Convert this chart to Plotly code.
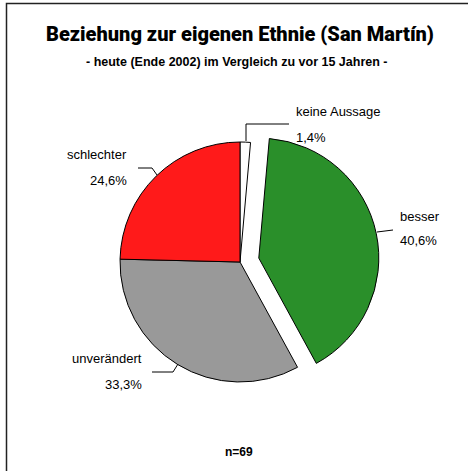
#!/usr/bin/env python3

import plotly.graph_objects as go

# Data (share of respondents, in %).
categories = ["keine Aussage", "besser", "unverändert", "schlechter"]
shares = [1.4, 40.6, 33.3, 24.6]
colors = ["#ffffff", "#2a8f2a", "#999999", "#ff1a1a"]
pulls = [0.0, 0.16, 0.0, 0.0]
sample_size = 69

W, H = 468, 471


def px(x, y):
    '''Convert pixel position (from top-left) to paper coordinates.'''
    return x / W, 1 - y / H


# Label placement (pixels) and alignment for each category.
label_pos = {
    "keine Aussage": (294, 112, 138, "left"),
    "besser": (398, 216, 240, "left"),
    "unverändert": (144, 358, 384, "right"),
    "schlechter": (129, 155, 180, "right"),
}

# Leader line paths (pixels).
leader_paths = {
    "keine Aussage": [(246, 141), (246, 124), (289, 124)],
    "besser": [(377, 232), (393, 230)],
    "unverändert": [(152, 372), (173, 372), (178, 364)],
    "schlechter": [(138, 168), (152, 168), (157, 175)],
}

# Pie geometry: radius 120 px centred at (240, 262), domain enlarged for the pull.
cx, cy, r = 240, 262, 120
half = r * (1 + max(pulls))
x0, y0 = px(cx - half, cy + half)
x1, y1 = px(cx + half, cy - half)

fig = go.Figure()
fig.add_trace(go.Pie(
    labels=categories,
    values=shares,
    sort=False,
    direction="clockwise",
    rotation=0,
    pull=pulls,
    textinfo="none",
    hoverinfo="label+percent",
    marker=dict(colors=colors, line=dict(color="black", width=1)),
    domain=dict(x=[x0, x1], y=[y0, y1]),
    showlegend=False,
))

font = "Liberation Sans, Arial, sans-serif"
annotations = []
for cat, val in zip(categories, shares):
    lx, ly1, ly2, align = label_pos[cat]
    anchor = "left" if align == "left" else "right"
    for text, ly in ((cat, ly1), (f"{val:.1f}%".replace(".", ","), ly2)):
        ax, ay = px(lx, ly)
        annotations.append(dict(
            x=ax, y=ay, xref="paper", yref="paper", text=text,
            showarrow=False, xanchor=anchor, yanchor="middle",
            font=dict(family=font, size=13, color="#000000"),
        ))

# Titles and sample size.
tx, ty = px(240, 34)
annotations.append(dict(
    x=tx, y=ty, xref="paper", yref="paper", showarrow=False,
    text="Beziehung zur eigenen Ethnie (San Martín)",
    font=dict(family="Roboto, DejaVu Sans, sans-serif", size=20, color="#000000", weight=900),
    xanchor="center", yanchor="middle",
))
sx, sy = px(237, 62)
annotations.append(dict(
    x=sx, y=sy, xref="paper", yref="paper", showarrow=False,
    text="<b>- heute (Ende 2002) im Vergleich zu vor 15 Jahren -</b>",
    font=dict(family=font, size=12.5, color="#000000"),
    xanchor="center", yanchor="middle",
))
nx, ny = px(239, 452)
annotations.append(dict(
    x=nx, y=ny, xref="paper", yref="paper", showarrow=False,
    text=f"<b>n={sample_size}</b>",
    font=dict(family=font, size=12, color="#000000"),
    xanchor="center", yanchor="middle",
))

shapes = []
for cat, pts in leader_paths.items():
    path = ""
    for i, (lx, ly) in enumerate(pts):
        ax, ay = px(lx, ly)
        path += ("M" if i == 0 else "L") + f"{ax},{ay} "
    shapes.append(dict(type="path", xref="paper", yref="paper", path=path.strip(),
                       line=dict(color="black", width=1)))

# Chart frame (extends past the right and bottom edges of the picture).
bx0, by0 = px(6.5, 3.5)
shapes.append(dict(type="rect", xref="paper", yref="paper",
                   x0=bx0, y0=-0.05, x1=1.05, y1=by0,
                   line=dict(color="#222222", width=1.5)))

fig.update_layout(
    width=W, height=H,
    margin=dict(l=0, r=0, t=0, b=0),
    paper_bgcolor="white",
    plot_bgcolor="white",
    annotations=annotations,
    shapes=shapes,
)

fig.write_html("out.html", config={"displayModeBar": False},
               post_script="document.body.style.margin = '0';")
